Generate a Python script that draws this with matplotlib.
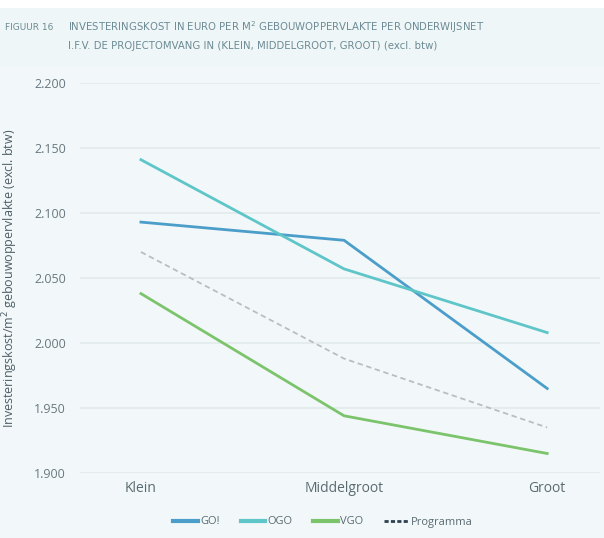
import numpy as np
import matplotlib.pyplot as plt
from matplotlib.lines import Line2D

categories = ['Klein', 'Middelgroot', 'Groot']
go = [2093, 2079, 1965]
ogo = [2141, 2057, 2008]
vgo = [2038, 1944, 1915]
programma = [2070, 1988, 1935]
yticks = [1900, 1950, 2000, 2050, 2100, 2150, 2200]
ytick_labels = ['1.900', '1.950', '2.000', '2.050', '2.100', '2.150', '2.200']

c_go = '#4b9dca'
c_ogo = '#5ec5c9'
c_vgo = '#7cc46c'
c_prog = '#b9bec2'
c_text = '#5a6a72'
bg = '#f2f8f9'

plt.rcParams['font.family'] = ['Open Sans', 'DejaVu Sans']

fig = plt.figure(figsize=(6.04, 5.38), dpi=100, facecolor='white')
fig.patches.append(plt.Rectangle((0.0, 0.0), 1, 0.93, transform=fig.transFigure,
                                 facecolor=bg, edgecolor='none', zorder=-1))
fig.patches.append(plt.Rectangle((0.0, 0.875), 1, 0.11, transform=fig.transFigure,
                                 facecolor='#eef6f7', edgecolor='none', zorder=-1))
ax = fig.add_axes([80 / 604, 1 - 473 / 538, 520 / 604, 390 / 538])
ax.set_facecolor(bg)

x = np.arange(len(categories))
ax.plot(x, go, color=c_go, lw=2, label='GO!')
ax.plot(x, ogo, color=c_ogo, lw=2, label='OGO')
ax.plot(x, vgo, color=c_vgo, lw=2, label='VGO')
ax.plot(x, programma, color=c_prog, lw=1.3, ls=(0, (3, 2)))

ax.set_xlim(-0.3, 2.26)
ax.set_ylim(1900, 2200)
ax.set_yticks(yticks)
ax.set_yticklabels(ytick_labels, fontsize=9, color='#6a7880')
ax.set_xticks(x)
ax.set_xticklabels(categories, fontsize=10, color=c_text)
ax.tick_params(length=0, pad=10)
ax.tick_params(axis='x', pad=6)
ax.grid(axis='y', color='#e2eaec', lw=1.2)
ax.set_axisbelow(True)
for s in ax.spines.values():
    s.set_visible(False)
ax.set_ylabel('Investeringskost/m$^2$ gebouwoppervlakte (excl. btw)', fontsize=9,
              color='#4e5e66', labelpad=10)

handles = [Line2D([0], [0], color=c_go, lw=3),
           Line2D([0], [0], color=c_ogo, lw=3),
           Line2D([0], [0], color=c_vgo, lw=3),
           Line2D([0], [0], color='#2d4150', lw=2, ls=(0, (1.5, 0.8)))]
fig.legend(handles, ['GO!', 'OGO', 'VGO', 'Programma'], loc='center',
           bbox_to_anchor=(0.535, 1 - 522 / 538), ncol=4, frameon=False,
           fontsize=8, labelcolor=c_text, handlelength=2.2, handletextpad=0.2,
           columnspacing=1.9)

title_font = ['DejaVu Sans']
fig.text(0.008, 1 - 27 / 538, 'FIGUUR 16', fontsize=6.5, color='#6c8a94',
         va='center', family=title_font)
fig.text(0.112, 1 - 27 / 538,
         'INVESTERINGSKOST IN EURO PER M$^2$ GEBOUWOPPERVLAKTE PER ONDERWIJSNET',
         fontsize=7.3, color='#6c8a94', va='center', family=title_font)
fig.text(0.112, 1 - 46 / 538,
         'I.F.V. DE PROJECTOMVANG IN (KLEIN, MIDDELGROOT, GROOT) (excl. btw)',
         fontsize=7.3, color='#6c8a94', va='center', family=title_font)

fig.savefig('out.png', dpi=100)
